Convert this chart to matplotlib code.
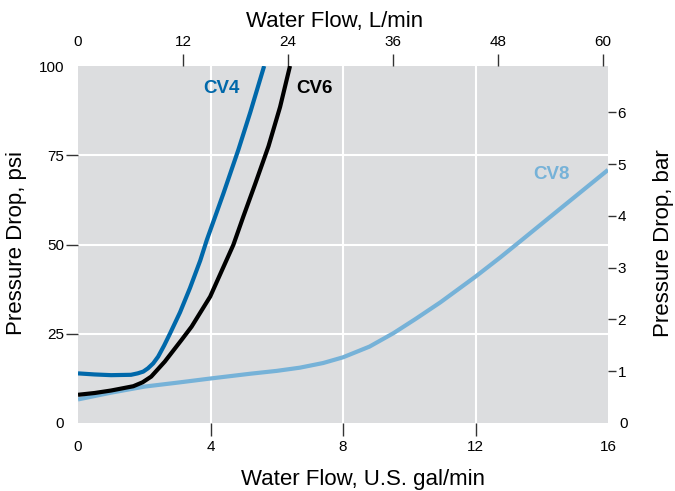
import numpy as np
import matplotlib.pyplot as plt

plt.rcParams['font.family'] = ['Liberation Sans', 'DejaVu Sans']

# flow in US gal/min, pressure drop in psi
cv4_gpm = [0, 0.5, 1.0, 1.6, 1.8, 1.97, 2.11, 2.27, 2.42, 2.6, 2.78, 3.08, 3.38, 3.69, 3.89, 4.39, 4.84, 5.2, 5.62]
cv4_psi = [13.9, 13.6, 13.4, 13.5, 13.9, 14.4, 15.3, 16.7, 18.6, 21.7, 25.1, 31.0, 37.8, 45.5, 51.3, 64.3, 76.5, 87.0, 100]

cv6_gpm = [0, 0.5, 1.0, 1.67, 1.95, 2.21, 2.62, 3.12, 3.43, 3.99, 4.26, 4.69, 4.99, 5.35, 5.75, 6.1, 6.4]
cv6_psi = [7.9, 8.4, 9.1, 10.3, 11.4, 13.0, 17.2, 23.2, 27.0, 35.4, 41.0, 49.9, 57.8, 67.0, 77.5, 88.5, 100]

cv8_gpm = [0, 1.0, 2.01, 3.0, 4.03, 5.2, 6.0, 6.7, 7.4, 8.0, 8.8, 9.53, 10.2, 10.94, 12.0, 12.75, 13.35, 14.66, 16.0]
cv8_psi = [6.6, 8.5, 10.2, 11.3, 12.5, 13.8, 14.6, 15.5, 16.8, 18.4, 21.4, 25.2, 29.2, 33.8, 41, 46.4, 50.9, 60.8, 70.9]

gpm_ticks = [4, 8, 12]
psi_ticks = [25, 50, 75]
lpm_ticks = [12, 24, 36, 48, 60]
bar_ticks = [1, 2, 3, 4, 5, 6]

LPM_PER_GPM = 3.785
PSI_PER_BAR = 14.5

c_cv4 = '#0068aa'
c_cv6 = '#000000'
c_cv8 = '#76b2d8'
tick_c = '#333333'

fig = plt.figure(figsize=(6.75, 4.91), dpi=100)
ax = fig.add_axes([78 / 675, 68 / 491, 530 / 675, 357 / 491])
ax.set_facecolor('#dcdddf')
for s in ax.spines.values():
    s.set_visible(False)

ax.set_xlim(0, 16)
ax.set_ylim(0, 100)

# grid
for g in gpm_ticks:
    ax.axvline(g, color='white', lw=1.5, zorder=1)
for g in psi_ticks:
    ax.axhline(g, color='white', lw=1.5, zorder=1)

line_kw = dict(lw=3, solid_capstyle='butt', solid_joinstyle='round')
ax.plot(cv8_gpm, cv8_psi, color=c_cv8, zorder=3, **line_kw)
ax.plot(cv4_gpm, cv4_psi, color=c_cv4, zorder=4, **line_kw)
ax.plot(cv6_gpm, cv6_psi, color=c_cv6, zorder=5, **line_kw)

ax.text(3.77, 93.6, 'CV4', color=c_cv4, fontsize=13.5, fontweight='bold', ha='left', va='center')
ax.text(6.6, 93.6, 'CV6', color=c_cv6, fontsize=13.5, fontweight='bold', ha='left', va='center')
ax.text(13.75, 69.7, 'CV8', color=c_cv8, fontsize=13.5, fontweight='bold', ha='left', va='center')

# bottom / left ticks: marks only on inner ticks, end labels via minor ticks
ax.set_xticks(gpm_ticks, [str(t) for t in gpm_ticks])
ax.set_xticks([0, 16], ['0', '16'], minor=True)
ax.set_yticks(psi_ticks, [str(t) for t in psi_ticks])
ax.set_yticks([0, 100], ['0', '100'], minor=True)
ax.tick_params(axis='x', which='major', length=9, width=1, color=tick_c, pad=3, labelsize=11)
ax.tick_params(axis='x', which='minor', length=0, pad=12, labelsize=11)
ax.tick_params(axis='y', which='major', length=9, width=1, color=tick_c, pad=1, labelsize=11)
ax.tick_params(axis='y', which='minor', length=0, pad=10, labelsize=11)

# top axis in L/min
top = ax.secondary_xaxis('top', functions=(lambda x: x * LPM_PER_GPM, lambda x: x / LPM_PER_GPM))
for s in top.spines.values():
    s.set_visible(False)
top.set_xticks(lpm_ticks, [str(t) for t in lpm_ticks])
top.set_xticks([0], ['0'], minor=True)
top.tick_params(axis='x', which='major', length=9, width=1, color=tick_c, pad=3, labelsize=11)
top.tick_params(axis='x', which='minor', length=0, pad=12, labelsize=11)

# right axis in bar
right = ax.secondary_yaxis('right', functions=(lambda p: p / PSI_PER_BAR, lambda b: b * PSI_PER_BAR))
for s in right.spines.values():
    s.set_visible(False)
right.set_yticks(bar_ticks, [str(t) for t in bar_ticks])
right.set_yticks([0], ['0'], minor=True)
right.tick_params(axis='y', which='major', length=6, width=1, color=tick_c, pad=1, labelsize=11)
right.tick_params(axis='y', which='minor', length=0, pad=8, labelsize=11)

fig.text(335 / 675, 1 - 21 / 491, 'Water Flow, L/min', fontsize=16, ha='center', va='center')
fig.text(363 / 675, 1 - 480 / 491, 'Water Flow, U.S. gal/min', fontsize=16, ha='center', va='center')
fig.text(17 / 675, 1 - 243 / 491, 'Pressure Drop, psi', fontsize=16, rotation=90, ha='center', va='center')
fig.text(663 / 675, 1 - 243 / 491, 'Pressure Drop, bar', fontsize=16, rotation=90, ha='center', va='center')

fig.savefig('out.png', dpi=100)
